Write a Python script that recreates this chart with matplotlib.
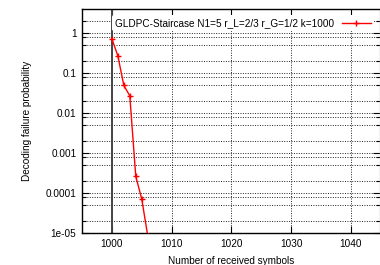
import matplotlib
matplotlib.use("Agg")
import matplotlib.pyplot as plt
import numpy as np

# values
symbols = [1000, 1001, 1002, 1003, 1004, 1005, 1006]
fail_prob = [0.72, 0.27, 0.049, 0.027, 2.6e-4, 7.1e-5, 8.6e-6]
label = "GLDPC-Staircase N1=5 r_L=2/3 r_G=1/2 k=1000"
x_ticks = [1000, 1010, 1020, 1030, 1040]
y_ticks = [1, 0.1, 0.01, 0.001, 0.0001, 1e-05]
y_tick_labels = ["1", "0.1", "0.01", "0.001", "0.0001", "1e-05"]

plt.rcParams['font.family'] = ['Liberation Sans', 'DejaVu Sans']
plt.rcParams['font.size'] = 7.2

fig = plt.figure(figsize=(3.8, 2.65), dpi=100)
ax = fig.add_axes([82/380, 1-233/265, 297.5/380, 224/265])

ax.set_yscale('log')
ax.set_xlim(995, 1044.8)
ax.set_ylim(1e-5, 4)

# grid: majors on x, 1 / 0.8 / 0.5 / 0.2 per decade on y
minor_y = []
for d in range(-5, 1):
    for m in [0.8, 0.5, 0.2]:
        v = m * 10.0**d
        if v > 1e-5:
            minor_y.append(v)
minor_y.append(2.0)
ax.set_xticks(x_ticks)
ax.set_yticks(y_ticks)
ax.set_yticklabels(y_tick_labels)
ax.set_yticks(minor_y, minor=True)
ax.yaxis.set_minor_formatter(matplotlib.ticker.NullFormatter())
ax.grid(True, which='major', axis='both', linestyle=(0, (1, 1.5)), color='#222222', linewidth=0.7)
ax.grid(True, which='minor', axis='y', linestyle=(0, (1, 1.5)), color='#222222', linewidth=0.7)
ax.set_axisbelow(True)

ax.tick_params(which='both', direction='in', top=True, right=True, width=0.8)
ax.tick_params(which='major', length=5, pad=4)
ax.tick_params(which='minor', length=3)
for s in ax.spines.values():
    s.set_linewidth(1.0)
ax.spines['right'].set_color('#bbbbbb')

ax.axvline(1000, color='#444444', linewidth=1.4, zorder=1.5)

ax.plot(symbols, fail_prob, color='red', linewidth=1.0, marker='+',
        markersize=5, markeredgewidth=1.0, label=label, zorder=3)

leg = ax.legend(loc='upper right', markerfirst=False, frameon=True,
                handlelength=2.9, borderpad=0.3, borderaxespad=0.6,
                handletextpad=0.7, fontsize=7.2)
leg.get_frame().set_facecolor('white')
leg.get_frame().set_edgecolor('none')
leg.get_frame().set_alpha(1.0)

ax.set_xlabel("Number of received symbols", fontsize=7.2, labelpad=5)
ax.set_ylabel("Decoding failure probability", fontsize=7.2, labelpad=10)

fig.savefig("out.png", dpi=100)
